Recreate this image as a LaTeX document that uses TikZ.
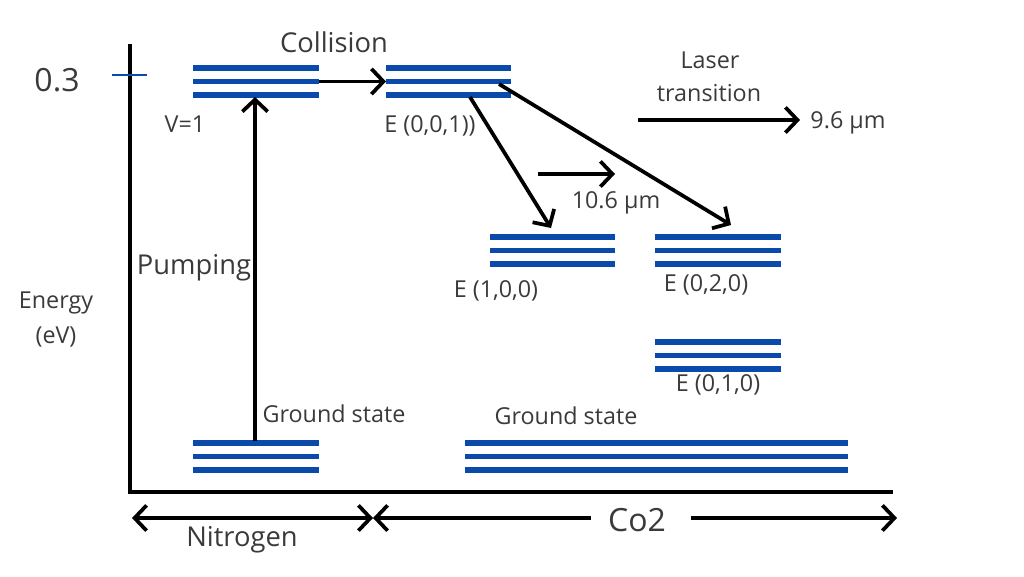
\documentclass[tikz,border=0pt]{standalone}
\usepackage{fontspec}
\setmainfont{Open Sans}
\usetikzlibrary{arrows.meta}
\definecolor{barblue}{HTML}{0A4AAA}
\definecolor{txt}{HTML}{3A3A3A}
\begin{document}
\begin{tikzpicture}[x=0.75pt,y=-0.75pt,
  bar/.style={barblue,line width=3.8pt},
  tip/.style={Straight Barb[length=9pt,width=19pt,line width=2.8pt]},
  arr/.style={line width=2.8pt,-{Straight Barb[length=9pt,width=19pt,line width=2.8pt]}},
  darr/.style={line width=2.8pt,{Straight Barb[length=9pt,width=19pt,line width=2.8pt]}-{Straight Barb[length=9pt,width=19pt,line width=2.8pt]}},
  larr/.style={line width=2.8pt,{Straight Barb[length=9pt,width=19pt,line width=2.8pt]}-},
  lbl/.style={text=txt,font=\fontsize{17.5}{20}\selectfont,inner sep=0pt},
  big/.style={text=txt,font=\fontsize{20.5}{24}\selectfont,inner sep=0pt},
  huge/.style={text=txt,font=\fontsize{24}{28}\selectfont,inner sep=0pt}]
\useasboundingbox (0,0) rectangle (1024,576);
% axes
\coordinate (ytop) at (130,44);
\coordinate (orig) at (130,492);
\coordinate (xend) at (893,492);
\draw[line width=3.6pt] (ytop) -- (orig) -- (xend);
\coordinate (t1) at (112,75); \coordinate (t2) at (147,75);
\draw[barblue,line width=2pt] (t1) -- (t2);
\node[huge] (v03) at (57,80) {0.3};
% level macro
\newcommand{\levels}[4]{% name, x1, x2, ytop
  \foreach \k/\dy in {a/0,b/13.5,c/27}{
    \coordinate (#1\k L) at (#2,#4+\dy);
    \coordinate (#1\k R) at (#3,#4+\dy);
    \draw[bar] (#1\k L) -- (#1\k R);
  }}
\levels{nv}{193}{319}{68}
\levels{ce}{386}{511}{68}
\levels{ca}{490}{615}{237}
\levels{cb}{655}{781}{237}
\levels{cc}{655}{781}{342}
\levels{ng}{193}{319}{443}
\levels{cg}{465}{848}{443}
% arrows
\draw[arr] (nvbR) -- (cebL);
\coordinate (pumpbot) at (255,441);
\coordinate (pumptop) at (255,97);
\draw[arr] (pumpbot) -- (pumptop);
\coordinate (s1) at (470,97); \coordinate (e1) at (551,228);
\draw[arr] (s1) -- (e1);
\coordinate (s2) at (499,84); \coordinate (e2) at (731,225);
\draw[arr] (s2) -- (e2);
\coordinate (s3) at (538,174); \coordinate (e3) at (615,174);
\draw[arr] (s3) -- (e3);
\coordinate (s4) at (638,120); \coordinate (e4) at (800,120);
\draw[arr] (s4) -- (e4);
% bottom
\coordinate (b0) at (132,518); \coordinate (b1) at (373,518);
\coordinate (b2) at (591,518); \coordinate (b3) at (691,518); \coordinate (b4) at (897,518);
\draw[darr] (b0) -- (b1);
\draw[larr] (b1) -- (b2);
\draw[arr] (b3) -- (b4);
% labels
\node[big] (coll) at (334,42) {Collision};
\node[lbl] (v1) at (185,124) {V=1};
\node[lbl] (e001) at (430,126) {E (0,0,1))};
\node[lbl] (laser) at (710,60) {Laser};
\node[lbl] (trans) at (709,93) {transition};
\node[lbl] (w96) at (848,123) {9.6 µm};
\node[lbl] (w106) at (616,203) {10.6 µm};
\node[big] (pump) at (194,268) {Pumping};
\node[lbl] (en) at (56,303) {Energy};
\node[lbl] (ev) at (56,337) {(eV)};
\node[lbl] (e100) at (496,291) {E (1,0,0)};
\node[lbl] (e020) at (706,285) {E (0,2,0)};
\node[lbl] (e010) at (718,385) {E (0,1,0)};
\node[lbl] (g1) at (334,414) {Ground state};
\node[lbl] (g2) at (566,416) {Ground state};
\node[big] (nit) at (242,540) {Nitrogen};
\node[huge] (co2) at (637,520) {Co2};
\end{tikzpicture}
\end{document}
